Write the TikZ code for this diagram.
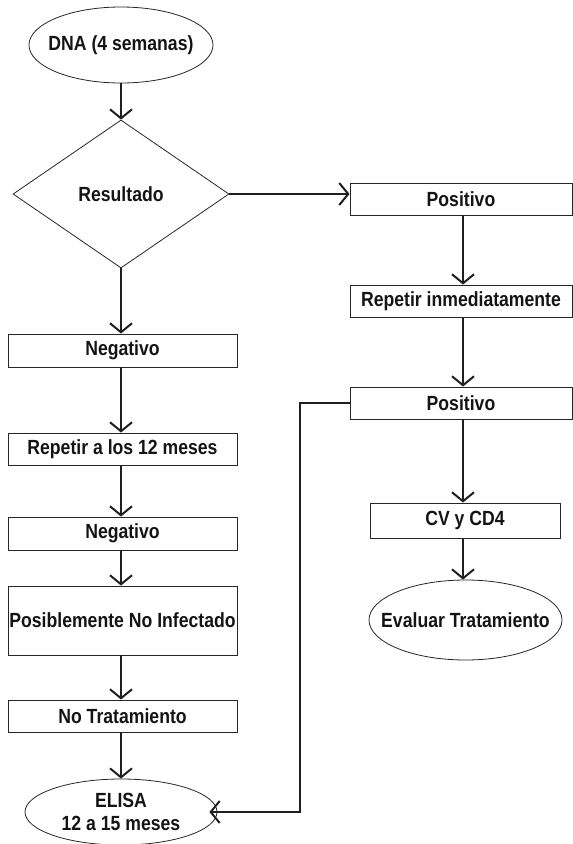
\documentclass[tikz,border=0pt]{standalone}
\usepackage{fontspec}
\setmainfont{Liberation Sans}[FakeStretch=0.86]
\usetikzlibrary{shapes.geometric,arrows.meta}
\begin{document}
\begin{tikzpicture}[x=1pt,y=-1pt,
  font=\bfseries\fontsize{20.5}{24}\selectfont,
  box/.style={draw=black!85,line width=0.9pt,rectangle,inner sep=0pt,text=black!92},
  oval/.style={draw=black!85,line width=0.8pt,ellipse,inner xsep=-60pt,inner ysep=0pt,text=black!92},
  decision/.style={draw=black!85,line width=0.8pt,diamond,inner sep=0pt,text=black!92},
  flow/.style={line width=2pt,draw=black!88,-{Straight Barb[length=9pt,width=22pt,line width=2pt]}}]
\useasboundingbox (0,0) rectangle (573,844);

% main decision column
\node[oval,minimum width=184pt,minimum height=76pt] (dna) at (121,45) {DNA (4 semanas)};
\node[decision,minimum width=216pt,minimum height=148pt] (res) at (121,194) {Resultado};

% negative branch
\node[box,minimum width=229pt,minimum height=33pt] (neg1) at (122.5,350.5) {Negativo};
\node[box,minimum width=229pt,minimum height=32pt] (rep12) at (122.5,449) {Repetir a los 12 meses};
\node[box,minimum width=229pt,minimum height=33pt] (neg2) at (122.5,533.5) {Negativo};
\node[box,minimum width=229pt,minimum height=69pt] (pni) at (122.5,620.5) {Posiblemente No Infectado};
\node[box,minimum width=229pt,minimum height=32pt] (notr) at (122.5,716) {No Tratamiento};
\node[oval,minimum width=192pt,minimum height=66pt,align=center] (elisa) at (121,812)
  {ELISA\\[-1pt]12 a 15 meses};

% positive branch
\node[box,minimum width=222pt,minimum height=32pt] (pos1) at (461,199) {Positivo};
\node[box,minimum width=222pt,minimum height=32pt] (repi) at (461,301) {Repetir inmediatamente};
\node[box,minimum width=222pt,minimum height=32pt] (pos2) at (461,403) {Positivo};
\node[box,minimum width=190pt,minimum height=35pt] (cvcd) at (465,520.5) {CV y CD4};
\node[oval,minimum width=193pt,minimum height=80pt] (eval) at (465.5,620) {Evaluar Tratamiento};

% connector axes of the two columns
\coordinate (lx) at (121,0);
\coordinate (rx) at (463,0);

% connectors
\draw[flow] (dna.south) -- (res.north);
\draw[flow] (res.east) -- (pos1.west |- res.east);
\draw[flow] (res.south) -- (neg1.north -| lx);
\draw[flow] (neg1.south -| lx) -- (rep12.north -| lx);
\draw[flow] (rep12.south -| lx) -- (neg2.north -| lx);
\draw[flow] (neg2.south -| lx) -- (pni.north -| lx);
\draw[flow] (pni.south -| lx) -- (notr.north -| lx);
\draw[flow] (notr.south -| lx) -- (elisa.north);
\draw[flow] (pos1.south -| rx) -- (repi.north -| rx);
\draw[flow] (repi.south -| rx) -- (pos2.north -| rx);
\draw[flow] (pos2.south -| rx) -- (cvcd.north -| rx);
\draw[flow] (cvcd.south -| rx) -- (eval.north -| rx);
\coordinate (bend) at (300,0);
\draw[flow] (pos2.west) -| (bend |- elisa.east) -- ([xshift=-8pt]elisa.east);
\end{tikzpicture}
\end{document}
